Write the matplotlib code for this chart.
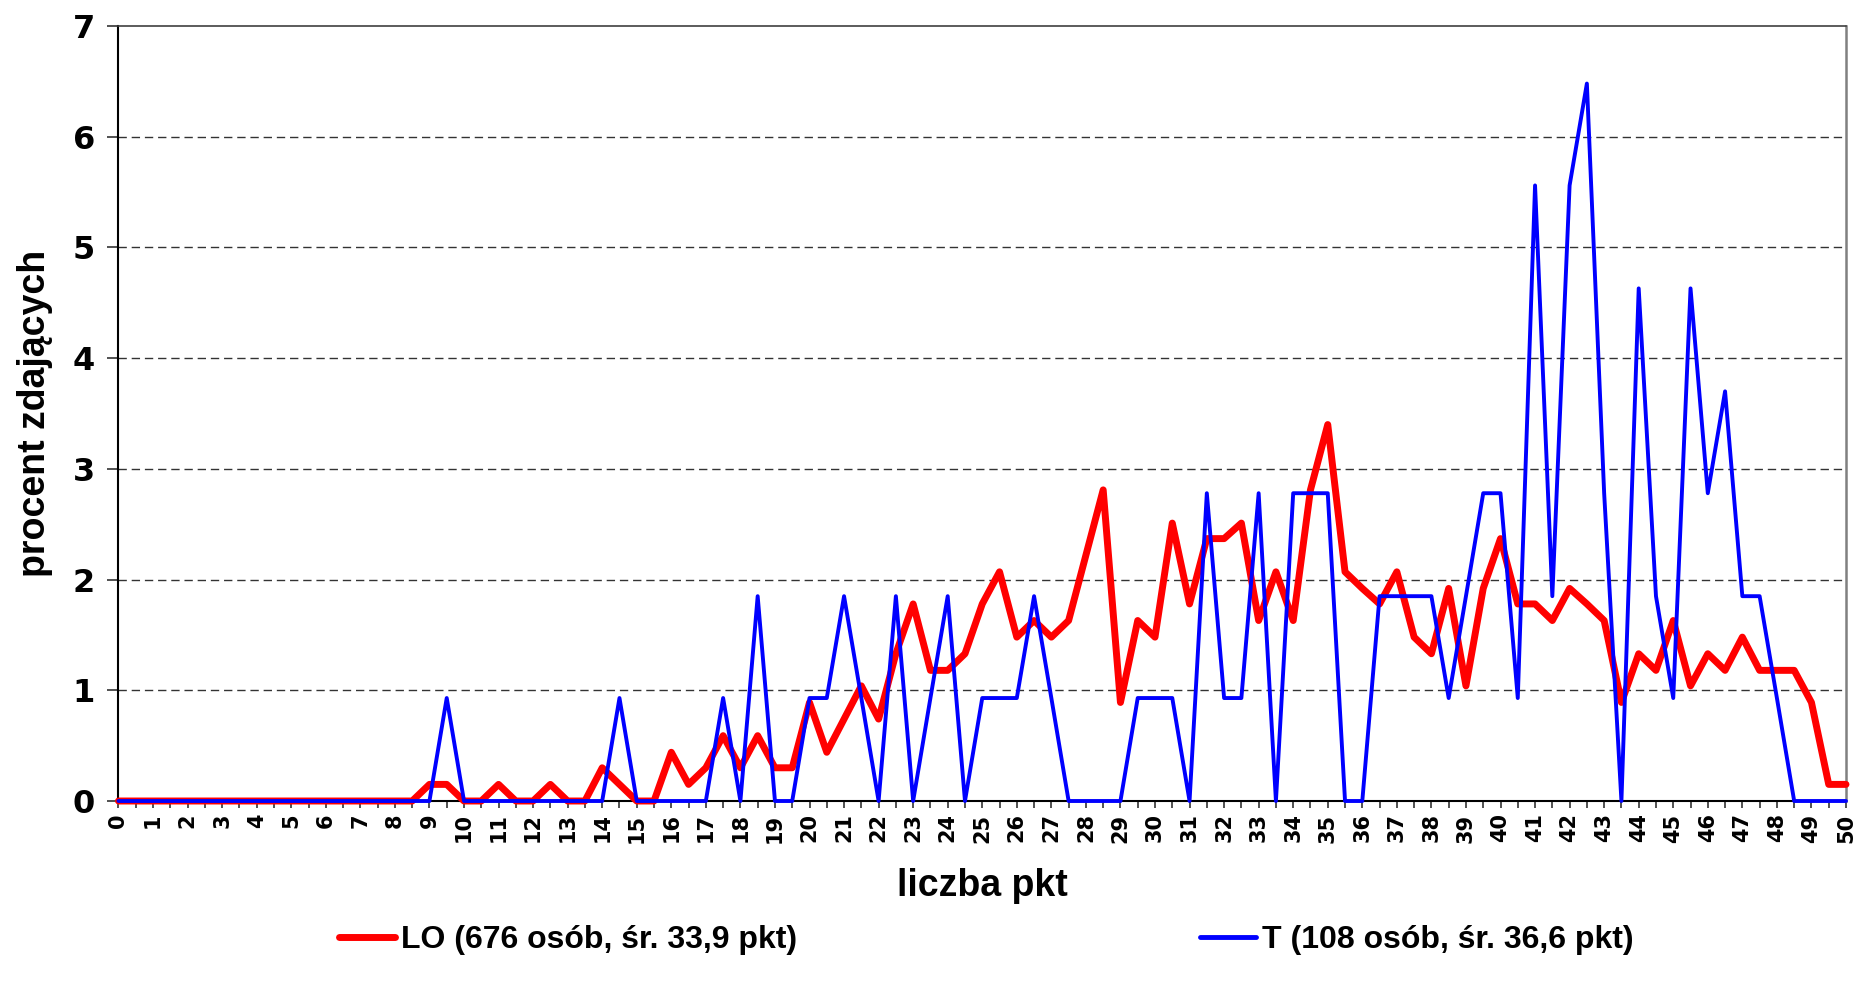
import matplotlib
matplotlib.use("Agg")
import matplotlib.pyplot as plt
from matplotlib.lines import Line2D

plt.rcParams['font.family'] = ['Liberation Sans', 'DejaVu Sans']
plt.rcParams['font.weight'] = 'bold'

# categories: points 0, 0.5, ..., 50
categories = [i / 2 for i in range(101)]
x_tick_labels = [str(i) for i in range(51)]

# LO (676 students) - percent
lo_values = [
    0, 0, 0, 0, 0, 0, 0, 0, 0, 0, 0, 0, 0, 0, 0, 0, 0, 0,   # 0 - 8.5
    0.15, 0.15,   # 9
    0.00, 0.00,   # 10
    0.15, 0.00,   # 11
    0.00, 0.15,   # 12
    0.00, 0.00,   # 13
    0.30, 0.15,   # 14
    0.00, 0.00,   # 15
    0.44, 0.15,   # 16
    0.30, 0.59,   # 17
    0.30, 0.59,   # 18
    0.30, 0.30,   # 19
    0.89, 0.44,   # 20
    0.74, 1.04,   # 21
    0.74, 1.33,   # 22
    1.78, 1.18,   # 23
    1.18, 1.33,   # 24
    1.78, 2.07,   # 25
    1.48, 1.63,   # 26
    1.48, 1.63,   # 27
    2.22, 2.81,   # 28
    0.89, 1.63,   # 29
    1.48, 2.51,   # 30
    1.78, 2.37,   # 31
    2.37, 2.51,   # 32
    1.63, 2.07,   # 33
    1.63, 2.81,   # 34
    3.40, 2.07,   # 35
    1.92, 1.78,   # 36
    2.07, 1.48,   # 37
    1.33, 1.92,   # 38
    1.04, 1.92,   # 39
    2.37, 1.78,   # 40
    1.78, 1.63,   # 41
    1.92, 1.78,   # 42
    1.63, 0.89,   # 43
    1.33, 1.18,   # 44
    1.63, 1.04,   # 45
    1.33, 1.18,   # 46
    1.48, 1.18,   # 47
    1.18, 1.18,   # 48
    0.89, 0.15,   # 49
    0.15,         # 50
]

# T (108 students) - percent
t_values = [
    0, 0, 0, 0, 0, 0, 0, 0, 0, 0, 0, 0, 0, 0, 0, 0, 0, 0,   # 0 - 8.5
    0.00, 0.93,   # 9
    0.00, 0.00,   # 10
    0.00, 0.00,   # 11
    0.00, 0.00,   # 12
    0.00, 0.00,   # 13
    0.00, 0.93,   # 14
    0.00, 0.00,   # 15
    0.00, 0.00,   # 16
    0.00, 0.93,   # 17
    0.00, 1.85,   # 18
    0.00, 0.00,   # 19
    0.93, 0.93,   # 20
    1.85, 0.93,   # 21
    0.00, 1.85,   # 22
    0.00, 0.93,   # 23
    1.85, 0.00,   # 24
    0.93, 0.93,   # 25
    0.93, 1.85,   # 26
    0.93, 0.00,   # 27
    0.00, 0.00,   # 28
    0.00, 0.93,   # 29
    0.93, 0.93,   # 30
    0.00, 2.78,   # 31
    0.93, 0.93,   # 32
    2.78, 0.00,   # 33
    2.78, 2.78,   # 34
    2.78, 0.00,   # 35
    0.00, 1.85,   # 36
    1.85, 1.85,   # 37
    1.85, 0.93,   # 38
    1.85, 2.78,   # 39
    2.78, 0.93,   # 40
    5.56, 1.85,   # 41
    5.56, 6.48,   # 42
    2.78, 0.00,   # 43
    4.63, 1.85,   # 44
    0.93, 4.63,   # 45
    2.78, 3.70,   # 46
    1.85, 1.85,   # 47
    0.93, 0.00,   # 48
    0.00, 0.00,   # 49
    0.00,         # 50
]

series_labels = ["LO (676 osób, śr. 33,9 pkt)", "T (108 osób, śr. 36,6 pkt)"]
y_ticks = [0, 1, 2, 3, 4, 5, 6, 7]

W, H = 1858, 989
fig = plt.figure(figsize=(W / 100, H / 100), dpi=100)
ax = fig.add_axes([118.5 / W, 1 - 801 / H, (1846 - 118.5) / W, (801 - 26) / H])

ax.plot(categories, lo_values, color='#FF0000', lw=5, solid_joinstyle='round',
        solid_capstyle='round', clip_on=False, zorder=3)
ax.plot(categories, t_values, color='#0000FF', lw=2.8, solid_joinstyle='round',
        solid_capstyle='round', clip_on=False, zorder=4)

ax.set_xlim(0, 50)
ax.set_ylim(0, 7)

tick_font = ['DejaVu Sans']
ax.set_yticks(y_ticks)
ax.set_yticklabels([str(v) for v in y_ticks], fontsize=23, fontweight='bold',
                   family=tick_font)
for v in y_ticks[1:-1]:
    ax.axhline(v, color='#333333', lw=1.0, dashes=(6, 3.5), zorder=1)

xt_labels = []
for c in categories:
    xt_labels.append(x_tick_labels[int(c)] if float(c).is_integer() else '')
ax.set_xticks(categories)
ax.set_xticklabels(xt_labels, rotation=90, fontsize=15, fontweight='bold',
                   family=tick_font)

ax.tick_params(axis='both', direction='out', width=1.2, color='#333333')
ax.tick_params(axis='x', length=5, pad=4)
ax.tick_params(axis='y', length=8, pad=9)

for s in ['left', 'bottom']:
    ax.spines[s].set_color('black')
    ax.spines[s].set_linewidth(1.5)
ax.spines['top'].set_color('#404040')
ax.spines['top'].set_linewidth(1.2)
ax.spines['right'].set_color('#808080')
ax.spines['right'].set_linewidth(1.8)

ax.set_xlabel('liczba pkt', fontsize=27, fontweight='bold', labelpad=18)
ax.set_ylabel('procent zdających', fontsize=27, fontweight='bold', labelpad=14)

handles = [Line2D([], [], color='#FF0000', lw=5, solid_capstyle='round'),
           Line2D([], [], color='#0000FF', lw=3.5, solid_capstyle='round')]
fig.legend(handles, series_labels, loc='center', bbox_to_anchor=(0.531, 0.0495),
           ncol=2, frameon=False, prop={'size': 23, 'weight': 'bold'},
           handlelength=1.75, handletextpad=0.2, columnspacing=12.6)

fig.savefig('out.png', dpi=100, facecolor='white')
